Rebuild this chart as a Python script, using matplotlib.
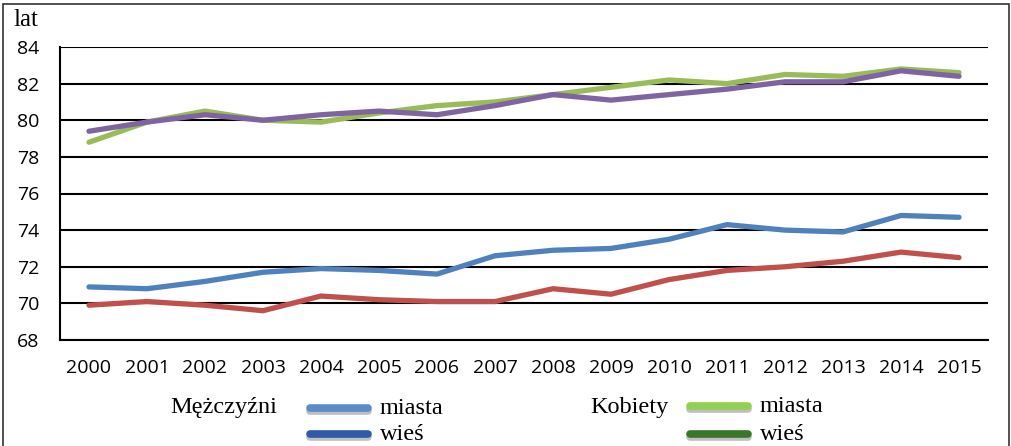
import matplotlib.pyplot as plt
from matplotlib.lines import Line2D
from matplotlib.patches import Rectangle
import matplotlib.patheffects as pe

years = ['2000', '2001', '2002', '2003', '2004', '2005', '2006', '2007',
         '2008', '2009', '2010', '2011', '2012', '2013', '2014', '2015']

# Mężczyźni
m_miasta = [70.9, 70.8, 71.2, 71.7, 71.9, 71.8, 71.6, 72.6,
            72.9, 73.0, 73.5, 74.3, 74.0, 73.9, 74.8, 74.7]
m_wies = [69.9, 70.1, 69.9, 69.6, 70.4, 70.2, 70.1, 70.1,
          70.8, 70.5, 71.3, 71.8, 72.0, 72.3, 72.8, 72.5]
# Kobiety
k_miasta = [78.8, 79.9, 80.5, 80.0, 79.9, 80.4, 80.8, 81.0,
            81.4, 81.8, 82.2, 82.0, 82.5, 82.4, 82.8, 82.6]
k_wies = [79.4, 79.9, 80.3, 80.0, 80.3, 80.5, 80.3, 80.8,
          81.4, 81.1, 81.4, 81.7, 82.1, 82.1, 82.7, 82.4]

yticks = [68, 70, 72, 74, 76, 78, 80, 82, 84]

plt.rcParams['font.family'] = ['Open Sans', 'DejaVu Sans']

W, H = 1012, 446
fig = plt.figure(figsize=(W / 100, H / 100), dpi=100)
ax = fig.add_axes([60 / W, 1 - 340 / H, 928 / W, 293 / H])

x = list(range(len(years)))
ax.plot(x, m_miasta, color='#4F81BD', lw=3.8, solid_capstyle='round', zorder=3)
ax.plot(x, m_wies, color='#C0504D', lw=3.8, solid_capstyle='round', zorder=3)
ax.plot(x, k_miasta, color='#9BBB59', lw=3.8, solid_capstyle='round', zorder=3)
ax.plot(x, k_wies, color='#8064A2', lw=3.8, solid_capstyle='round', zorder=4)

ax.set_xlim(-0.5, len(years) - 0.5)
ax.set_ylim(68, 84)
ax.set_yticks(yticks)
ax.set_xticks(x)
ax.set_xticklabels(years)
ax.yaxis.grid(True, color='black', lw=1.5)
ax.set_axisbelow(True)
ax.tick_params(length=0, labelsize=14)
ax.tick_params(axis='y', pad=15)
ax.tick_params(axis='x', pad=14)
for s in ['top', 'right']:
    ax.spines[s].set_visible(False)
ax.spines['left'].set_linewidth(1.5)
ax.spines['bottom'].set_linewidth(1.5)

# ramka wokół wykresu
fig.patches.append(Rectangle((3 / W, -0.01), 1006 / W, 1 - 4 / H + 0.01,
                             transform=fig.transFigure, fill=False,
                             edgecolor='#333333', lw=1.2))

fig.text(13 / W, 1 - 20 / H, 'lat', family='Liberation Serif', fontsize=18, va='center')

# legenda
serif = dict(family='Liberation Serif', fontsize=17.5, va='center')
fig.text(170 / W, 1 - 407 / H, 'Mężczyźni', **serif)
fig.text(590 / W, 1 - 407 / H, 'Kobiety', **serif)
items = [(310, 408, '#5B8BC9', 'miasta'), (310, 434, '#2E5AA8', 'wieś'),
         (690, 406, '#92D050', 'miasta'), (690, 434, '#38762C', 'wieś')]
for x0, y0, c, lab in items:
    ln = Line2D([x0 / W, (x0 + 58) / W], [1 - y0 / H, 1 - y0 / H], transform=fig.transFigure,
                color=c, lw=5.5, solid_capstyle='round',
                path_effects=[pe.SimpleLineShadow(offset=(0, -2.5), shadow_color='gray', alpha=0.5),
                              pe.Normal()])
    fig.lines.append(ln)
    fig.text((x0 + 70) / W, 1 - (y0 + 1) / H, lab, **serif)

fig.savefig('out.png', dpi=100)
